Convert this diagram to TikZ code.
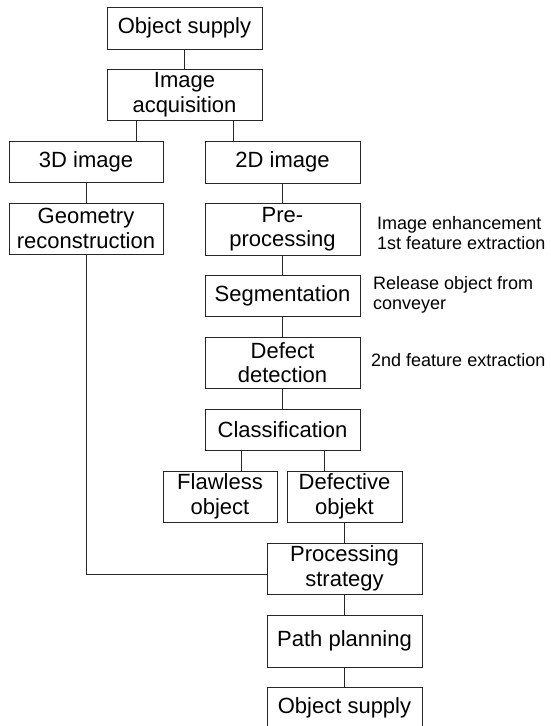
\documentclass[tikz,border=0pt]{standalone}
\usepackage{fontspec}
\setmainfont{Liberation Sans}
\begin{document}
\begin{tikzpicture}[x=1pt,y=-1pt,
  box/.style={draw=black!85, line width=0.9pt, inner sep=0pt, align=center,
    font=\fontsize{22}{24.5}\selectfont},
  note/.style={inner sep=0pt, align=left, anchor=west,
    font=\fontsize{18}{19.5}\selectfont},
  link/.style={draw=black!85, line width=0.9pt}]
\useasboundingbox (0,0) rectangle (550,726);
% left/top
\node[box, minimum width=155pt, minimum height=42pt] (os1) at (184.5,28) {Object supply};
\node[box, minimum width=155pt, minimum height=51pt] (ia) at (184.5,94.5) {Image\\acquisition};
\node[box, minimum width=154pt, minimum height=41pt] (d3) at (86,161.5) {3D image};
\node[box, minimum width=155pt, minimum height=42pt] (d2) at (282.5,162) {2D image};
\node[box, minimum width=154pt, minimum height=51pt] (geo) at (86,228.5) {Geometry\\reconstruction};
\node[box, minimum width=155pt, minimum height=52pt] (pre) at (282.5,229) {Pre-\\processing};
\node[box, minimum width=155pt, minimum height=41pt] (seg) at (282.5,295.5) {Segmentation};
\node[box, minimum width=155pt, minimum height=51pt] (def) at (282.5,362.5) {Defect\\detection};
\node[box, minimum width=155pt, minimum height=41pt] (cls) at (282.5,429.5) {Classification};
\node[box, minimum width=114pt, minimum height=51pt] (flaw) at (220,496.5) {Flawless\\object};
\node[box, minimum width=115pt, minimum height=51pt] (defo) at (344.5,496.5) {Defective\\objekt};
\node[box, minimum width=155pt, minimum height=51pt] (proc) at (344.5,568.5) {Processing\\strategy};
\node[box, minimum width=155pt, minimum height=52pt] (path) at (344.5,641) {Path planning};
\node[box, minimum width=155pt, minimum height=42pt] (os2) at (344.5,708) {Object supply};
% notes
\node[note] (n1) at (377,233) {Image enhancement\\1st feature extraction};
\node[note] (n2) at (373,295) {Release object from\\conveyer};
\node[note] (n3) at (371,360) {2nd feature extraction};
% connectors
\draw[link] (os1.south) -- (ia.north);
\draw[link] ([xshift=-48.5pt]ia.south) -- ([xshift=-48.5pt]ia.south |- d3.north);
\draw[link] ([xshift=48.5pt]ia.south) -- ([xshift=48.5pt]ia.south |- d2.north);
\draw[link] (d3.south) -- (geo.north);
\draw[link] (d2.south) -- (pre.north);
\draw[link] (pre.south) -- (seg.north);
\draw[link] (seg.south) -- (def.north);
\draw[link] (def.south) -- (cls.north);
\draw[link] ([xshift=-41.5pt]cls.south) -- ([xshift=-41.5pt]cls.south |- flaw.north);
\draw[link] ([xshift=41.5pt]cls.south) -- ([xshift=41.5pt]cls.south |- defo.north);
\draw[link] (defo.south) -- (defo.south |- proc.north);
\draw[link] (geo.south) |- ([yshift=-5.5pt]proc.west);
\draw[link] (proc.south) -- (path.north);
\draw[link] (path.south) -- (os2.north);
\end{tikzpicture}
\end{document}
